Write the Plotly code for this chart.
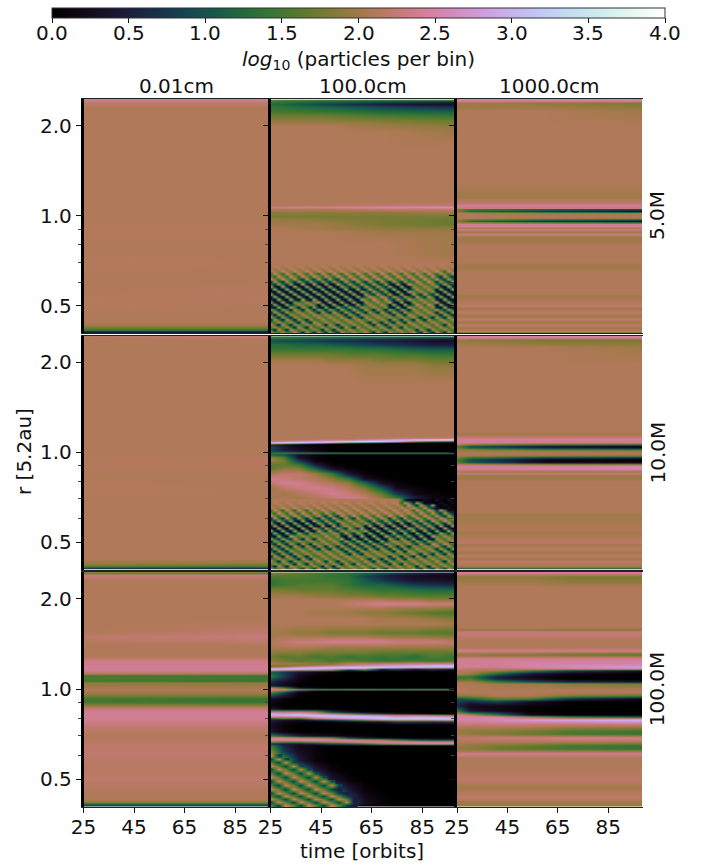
import math
import plotly.graph_objects as go

# ---------- labels ----------
COL_TITLES = ["0.01cm", "100.0cm", "1000.0cm"]
ROW_TITLES = ["5.0M", "10.0M", "100.0M"]
X_TICKS = [25, 45, 65, 85]
Y_MAJOR = [0.5, 1.0, 2.0]
Y_MINOR = [0.4, 0.6, 0.7, 0.8, 0.9]
CB_TICKS = [0.0, 0.5, 1.0, 1.5, 2.0, 2.5, 3.0, 3.5, 4.0]

# ---------- values: log10(particles per bin) x 10 ----------
T_EDGE = [25, 98.6]
T_LINE = [25, 30, 60, 98.6]
T_MID = [25, 30, 36, 43, 49, 56, 62, 69, 75, 82, 89, 98.6]
T_B0 = [25, 45, 70, 98.6]
T_C2 = [25, 30, 41, 54, 70, 98.6]
T_STRIPE = [25, 26.6, 28.1, 29.7, 31.3, 32.8, 34.4, 36, 37.5, 39.1, 40.7, 42.2, 43.8, 45.4, 46.9, 48.5,
            50, 51.6, 53.2, 54.7, 56.3, 57.9, 59.4, 61, 62.6, 64.1, 65.7, 67.3, 68.8, 70.4, 72, 73.5,
            75.1, 76.7, 78.2, 79.8, 81.4, 82.9, 84.5, 86.1, 87.6, 89.2, 90.8, 92.3, 93.9, 95.5, 97, 98.6]
T_STRIPE_C = [25, 28, 31, 34, 37, 40, 43, 46, 49, 52, 55, 58]

R_FINE = [2.46, 2.42, 2.38, 2.3, 2.2, 2.1, 2.0, 1.9, 1.8, 1.7, 1.6, 1.5, 1.4, 1.3, 1.2, 1.1, 1.0,
          0.95, 0.9, 0.85, 0.8, 0.75, 0.7, 0.65, 0.6, 0.55, 0.5, 0.47, 0.44, 0.43, 0.42, 0.415, 0.41, 0.405, 0.40]
Z_A0 = [[24,24],[23,23],[22,22],[21,21],[21,21],[21,21],[21,21],[21,21],[21,21],[21,21],[21,21],[21,21],[21,21],
        [21,21],[21,21],[21,21],[21,21],[21,21],[21.4,21.4],[21,21],[21,21],[21,21],[21.4,21],[21,21],[21,21],[21,21.4],
        [21.4,21],[21,21],[21,21],[20,20],[17,17],[14,13],[8,7],[1,2],[0,0]]
Z_B0L = [[22,23],[21,22],[21,21],[21,21],[21,21],[21,21],[21,21],[21,21],[21,21],[21,21],[21,21],[21,21],[21,21],
         [21,21],[21,21],[21,21],[21,21],[21,21.4],[21.4,21.4],[21,21],[21,21],[21.4,21],[21,21],[21,21],[21,21],[21,21],
         [21,21],[21,21],[21,21],[20,20],[19,18],[15,14],[10,9],[3,2],[0,0]]

R_C0 = [2.46, 2.43, 2.4, 2.35, 2.3, 2.1, 2.0, 1.8, 1.7, 1.55, 1.5, 1.4, 1.35, 1.28, 1.25, 1.2, 1.15, 1.13, 1.11, 1.09,
        1.07, 1.05, 1.0, 0.97, 0.95, 0.93, 0.91, 0.89, 0.87, 0.84, 0.8, 0.77, 0.74, 0.7, 0.65, 0.6, 0.55, 0.5, 0.45,
        0.43, 0.42, 0.415, 0.41, 0.405, 0.40]
Z_C0 = [[19,19],[18,17],[23,23],[22,22],[21,21],[21,21],[21,21],[21,21],[21,21],[21,22],[22,23],[21,21],[21,21],[21,21],
        [23,23],[24,24],[24,24],[21,21],[15,14],[16,15],[15,14],[19,19],[21,21],[20,20],[18,18],[15,14],[15,14],[18,18],
        [22,22],[24,24],[24,24],[23,23],[22,22],[21,21],[22,22],[22,22],[21.5,21.5],[22,22],[21,21],[21,21],[18,18],[13,13],
        [8,8],[2,2],[0,0]]

R_A2 = [2.46, 2.42, 2.38, 2.32, 2.25, 2.0, 1.6, 1.3, 1.16, 1.14, 1.1, 1.09, 1.075, 1.06, 1.05, 1.04, 1.03, 1.02, 1.0,
        0.985, 0.975, 0.962, 0.95, 0.94, 0.925, 0.91, 0.9, 0.88, 0.87, 0.85, 0.83, 0.8, 0.7, 0.68, 0.65, 0.55, 0.54,
        0.52, 0.5, 0.49, 0.475, 0.46, 0.45, 0.44, 0.43, 0.42, 0.41, 0.405, 0.40]
Z_A2 = [[25,25,25,25],[23,23,23,23],[20,20,19,18],[20,20,20,19],[21,21,21,20],[21,21,21,21],[21,21,21,21],[21,21,21,21],
        [20,20,20,20],[21,21,21,21],[22,22,22,22],[24,24,24,24],[24,24,24,24],[22,23,23,23],[19,15,12,9],[18,13,8,4],
        [20,17,14,11],[21,21,20,20],[21,21,21,21],[21,21,20,20],[20,18,15,14],[19,13,7,3],[20,18,15,12],[24,24,24,24],
        [24,24,24,24],[21,21,21,21],[23,23,23,23],[20,20,20,20],[23,23,23,23],[20,20,20,20],[20,20,20,20],[21,21,21,21],
        [21,21,21,21],[20,20,20,20],[21,21,21,21],[21,21,21,21],[20,20,20,20],[21,21,21,21],[22,22,22,22],[20,20,20,20],
        [22,22,22,22],[20,20,20,20],[22,22,22,22],[20,20,20,20],[22,22,22,22],[20,20,20,20],[22,22,22,22],[15,15,15,15],[0,0,0,0]]

R_B2 = [2.46, 2.43, 2.38, 2.32, 2.25, 2.0, 1.6, 1.3, 1.17, 1.155, 1.14, 1.11, 1.09, 1.075, 1.065, 1.055, 1.045, 1.035,
        1.025, 1.01, 0.99, 0.975, 0.965, 0.955, 0.94, 0.925, 0.915, 0.9, 0.885, 0.87, 0.86, 0.85, 0.84, 0.82, 0.8, 0.7,
        0.63, 0.62, 0.55, 0.54, 0.5, 0.49, 0.475, 0.46, 0.45, 0.44, 0.43, 0.415, 0.41, 0.405, 0.40]
Z_B2 = [[25,25,25,25],[24,24,24,24],[20,19,18,18],[20,20,19,19],[21,21,21,20],[21,21,21,21],[21,21,21,21],[21,21,21,21],
        [21,21,21,21],[20,20,20,20],[21,21,21,21],[24,24,24,24],[24,24,24,24],[24,24,23,23],[21,18,14,13],[18,12,7,4],
        [16,10,3,1],[18,12,7,4],[20,19,16,15],[20,20,20,20],[21,21,21,21],[20,20,19,18],[19,17,13,12],[17,11,4,2],
        [15,9,1,0],[17,12,4,3],[20,19,16,15],[24,24,24,25],[24,24,25,26],[22,22,22,22],[20,20,20,20],[23,23,23,23],
        [20,20,20,20],[20,20,20,20],[21,21,21,21],[21,21,21,21],[21,21,21,21],[20,20,20,20],[21,21,21,21],[20,20,20,20],
        [22,22,22,22],[20,20,20,20],[22,22,22,22],[20,20,20,20],[22,22,22,22],[20,20,20,20],[22,22,22,22],[20,20,20,20],
        [17,17,17,17],[4,4,4,4],[0,0,0,0]]

R_C2 = [2.46, 2.42, 2.36, 2.28, 2.2, 1.9, 1.7, 1.6, 1.58, 1.56, 1.54, 1.45, 1.37, 1.34, 1.32, 1.3, 1.28, 1.26, 1.22, 1.19,
        1.17, 1.15, 1.13, 1.1, 1.08, 1.06, 1.04, 1.0, 0.97, 0.95, 0.93, 0.91, 0.88, 0.85, 0.82, 0.81, 0.79, 0.77, 0.75,
        0.73, 0.71, 0.69, 0.67, 0.65, 0.635, 0.62, 0.61, 0.59, 0.55, 0.5, 0.47, 0.44, 0.42, 0.405, 0.40]
Z_C2 = [[25,25,25,25,25,25],[23,23,23,23,23,23],[19,19,19,19,18,18],[20,20,20,20,19,19],[21,21,21,21,21,21],
        [21,21,21,21,21,21],[21,21,21,21,21,21],[21,21,21,21,21,21],[19,19,19,19,18,18],[21,21,21,21,21,21],[23,23,23,23,23,23],
        [21,21,21,21,21,21],[21,21,21,21,21,21],[24,24,24,24,24,24],[21,21,21,21,20,20],[19,19,18,18,17,16],[21,21,21,21,21,21],
        [24,24,24,24,24,24],[24,24,24,25,25,25],[24,24,24,25,26,28],[23,22,22,23,24,26],[21,21,20,15,8,3],[21,20,12,4,1,0],
        [15,14,5,2,0,0],[15,16,6,3,0,0],[20,20,15,10,6,4],[21,21,20,20,19,18],[22,21,21,21,21,21],[21,21,21,21,21,21],
        [19,19,21,21,18,16],[10,12,17,16,7,2],[8,6,8,3,0,0],[6,2,2,1,0,0],[14,4,2,0,0,0],[24,22,14,2,0,0],[25,25,25,20,14,10],
        [25,25,26,28,29,31],[23,23,23,23,23,24],[21,21,21,21,20,20],[20,19,19,18,16,15],[20,19,18,17,15,14],[22,22,23,23,24,24],
        [21,21,21,21,21,21],[20,19,18,17,15,14],[19,19,17,16,15,14],[21,21,21,21,21,21],[24,24,24,24,24,24],[21,21,21,21,21,21],
        [21,21,21,21,21,21],[22,22,22,22,22,22],[20,20,20,20,20,20],[22,22,22,22,22,22],[20,20,20,20,20,20],[19,19,19,19,19,19],[3,3,3,3,3,3]]

R_B0 = [2.46, 2.44, 2.4, 2.36, 2.32, 2.25, 2.18, 2.1, 2.0, 1.9, 1.7, 1.4, 1.2, 1.12, 1.09, 1.07, 1.05, 1.03, 1.0, 0.97,
        0.94, 0.91, 0.88, 0.82, 0.75, 0.7]
Z_B0 = [[34,34,34,34],[16,15,14,14],[14,11,8,5],[13,9,5,3],[14,12,9,7],[15,14,12,11],[17,17,15,14],[19,19,18,17],
        [21,21,20,19],[21,21,21,20],[21,21,21,21],[21,21,21,21],[21,21,21,21],[21,21,21,21],[21,21,22,22],[23,24,25,26],
        [21,21,22,22],[19,19,19,20],[18,18,18,18],[20,19,18,17],[20,20,18,17],[21,20,19,19],[21,21,20,20],[21,21,21,20],
        [21,21,21,20],[21,21,21,21]]

R_B1 = [2.46, 2.44, 2.4, 2.36, 2.3, 2.22, 2.14, 2.05, 1.95, 1.7, 1.4, 1.2, 1.13, 1.11, 1.10, 1.09, 1.08, 1.07, 1.06, 1.04,
        1.02, 1.005, 0.995, 0.985, 0.96, 0.94, 0.91, 0.88, 0.85, 0.82, 0.79, 0.76, 0.73, 0.70]
Z_B1 = [[34,34,34,34,34,34,34,34,34,34,34,34],
        [15,15,15,15,14,14,14,14,14,14,13,13],
        [12,12,11,10,10,9,8,8,7,6,6,5],
        [10,9,9,8,7,7,6,5,5,4,3,3],
        [13,13,12,12,11,10,9,8,7,6,5,5],
        [14,14,14,14,14,14,13,13,12,11,10,10],
        [17,17,17,17,17,16,16,16,15,15,14,14],
        [20,20,20,20,19,19,19,18,18,18,17,17],
        [21,21,21,21,21,21,20,20,20,20,19,19],
        [21,21,21,21,21,21,21,21,21,21,21,21],
        [21,21,21,21,21,21,21,21,21,21,21,21],
        [21,21,21,21,21,21,21,21,21,21,21,21],
        [21,21,21,21,21,21,21,21,21,21,21,21],
        [21,21,21,21,21,21,22,22,23,24,24,25],
        [21,21,21,22,22,23,25,28,30,33,36,37],
        [24,26,28,30,33,34,35,33,28,18,12,8],
        [34,35,34,30,24,15,10,5,2,1,0,0],
        [20,16,10,5,2,1,0,0,0,0,0,0],
        [6,3,1,0,0,0,0,0,0,0,0,0],
        [10,5,2,1,0,0,0,0,0,0,0,0],
        [8,5,3,1,0,0,0,0,0,0,0,0],
        [10,8,5,3,1,0,0,0,0,0,0,0],
        [14,15,15,15,15,15,15,15,15,15,15,15],
        [12,10,3,1,0,0,0,0,0,0,0,0],
        [20,16,4,1,0,0,0,0,0,0,0,0],
        [20,18,8,1,0,0,0,0,0,0,0,0],
        [16,17,15,5,1,0,0,0,0,0,0,0],
        [17,19,19,12,3,1,0,0,0,0,0,0],
        [21,22,22,20,15,4,1,0,0,0,0,0],
        [24,23,22,21,19,14,3,1,0,0,0,0],
        [22,24,24,22,21,19,12,3,1,0,0,0],
        [20,22,23,24,23,21,18,10,2,1,0,0],
        [21,20,21,22,24,23,21,17,8,2,1,0],
        [20,21,20,21,22,24,23,20,16,6,2,1]]

R_C1 = [2.46, 2.44, 2.38, 2.3, 2.22, 2.14, 2.05, 1.98, 1.93, 1.87, 1.8, 1.73, 1.65, 1.54, 1.44, 1.38, 1.33, 1.28, 1.24, 1.22,
        1.21, 1.2, 1.19, 1.18, 1.17, 1.16, 1.14, 1.1, 1.06, 1.03, 1.01, 1.0, 0.99, 0.97, 0.93, 0.89, 0.86, 0.84, 0.83, 0.82,
        0.81, 0.8, 0.79, 0.78, 0.76, 0.72, 0.7, 0.69, 0.68, 0.67, 0.66, 0.65, 0.62, 0.58, 0.54, 0.5, 0.46, 0.42, 0.4]
Z_C1 = [[35,35,35,35,35,35,35,35,35,35,35,35],
        [18,18,17,16,15,14,12,10,8,6,5,4],
        [16,16,16,15,14,13,9,6,4,3,2,2],
        [14,15,15,15,15,14,11,8,6,4,4,3],
        [14,15,16,16,16,14,12,12,10,8,7,6],
        [18,18,17,17,17,16,15,14,14,13,12,12],
        [20,20,20,19,19,18,18,17,17,16,16,16],
        [21,21,21,21,21,21,21,21,20,20,19,19],
        [21,21,21,21,21,22,23,24,24,24,23,23],
        [21,21,21,21,21,21,21,21,20,20,20,19],
        [21,21,21,20,20,20,19,19,18,17,16,15],
        [21,21,21,21,21,21,21,20,20,20,19,18],
        [21,21,21,21,21,21,21,21,21,21,21,20],
        [20,20,19,19,18,18,18,17,17,17,16,16],
        [21,22,23,23,24,24,24,24,23,23,23,22],
        [21,21,21,21,20,20,20,20,20,20,20,20],
        [19,19,19,18,18,18,18,17,17,17,17,17],
        [18,16,17,15,16,14,15,14,15,13,16,14],
        [19,18,16,17,15,16,15,14,14,15,14,15],
        [21,20,20,19,19,22,22,23,23,24,24,24],
        [19,19,18,18,20,22,24,25,26,26,27,28],
        [18,18,20,22,24,25,26,27,28,30,31,32],
        [19,20,24,27,29,31,31,32,31,31,31,31],
        [24,27,30,31,31,31,31,29,26,25,24,24],
        [31,31,31,29,27,26,24,10,12,8,10,8],
        [29,27,25,24,22,8,15,4,6,3,5,2],
        [12,8,4,2,1,0,0,0,0,0,0,0],
        [14,8,2,0,0,0,0,0,0,0,0,0],
        [6,3,1,0,0,0,0,0,0,0,0,0],
        [5,2,0,0,0,0,0,0,0,0,0,0],
        [22,15,3,1,0,0,0,0,0,0,0,0],
        [24,24,22,18,18,19,19,18,18,19,19,19],
        [22,18,5,1,0,0,0,0,0,0,0,0],
        [16,8,1,0,0,0,0,0,0,0,0,0],
        [3,1,0,0,0,0,0,0,0,0,0,0],
        [1,0,0,0,0,0,0,0,0,0,0,0],
        [4,1,0,0,0,0,0,0,0,0,0,0],
        [22,22,22,20,8,3,1,0,0,0,0,0],
        [30,27,29,25,22,18,12,8,5,3,1,0],
        [29,31,32,31,29,26,24,22,20,20,18,15],
        [25,24,25,29,31,32,32,31,28,29,29,27],
        [10,14,12,20,24,26,28,31,32,32,32,32],
        [6,4,3,8,10,15,20,24,25,25,26,27],
        [4,2,1,0,1,2,3,4,8,8,7,8],
        [3,1,0,0,0,0,0,0,0,0,0,0],
        [4,1,0,0,0,0,0,0,0,0,0,0],
        [15,10,5,3,2,1,1,0,0,0,0,0],
        [24,24,22,20,18,8,4,2,1,0,0,0],
        [25,25,26,26,25,24,22,20,15,10,8,8],
        [20,18,18,20,22,24,25,25,25,25,24,24],
        [8,5,4,6,10,12,15,20,22,24,25,25],
        [15,6,2,1,0,0,0,0,0,0,0,0],
        [20,8,3,1,0,0,0,0,0,0,0,0],
        [21,18,5,1,0,0,0,0,0,0,0,0],
        [21,20,16,5,1,0,0,0,0,0,0,0],
        [21,21,19,15,4,1,0,0,0,0,0,0],
        [21,21,20,18,14,5,1,0,0,0,0,0],
        [21,21,21,19,17,10,3,1,0,0,0,0],
        [0,0,0,0,0,0,0,0,0,0,0,0]]

R_STRIPE = [0.692, 0.679, 0.665, 0.652, 0.64, 0.627, 0.615, 0.603, 0.591, 0.58, 0.568, 0.557, 0.546, 0.536, 0.525,
            0.515, 0.505, 0.495, 0.486, 0.476, 0.467, 0.458, 0.449, 0.44, 0.432, 0.424, 0.416, 0.408, 0.40]
Z_LOW = [
 [23,15,3,23,15,3,23,15,3,23,15,3,23,15,3,23,15,3,24,13,5,24,13,5,23,15,3,23,15,3,23,15,3,23,15,3,22,17,14,22,17,14,24,13,5,24,13,5],
 [3,23,15,3,23,15,14,22,17,14,22,17,3,23,15,3,23,15,3,23,15,3,23,15,3,23,15,3,23,15,3,23,15,3,23,15,14,22,17,14,22,17,3,23,15,3,23,15],
 [15,3,23,15,3,23,17,14,22,17,14,22,17,14,22,17,14,22,15,3,23,15,3,23,17,14,22,17,14,22,15,3,23,15,3,23,17,14,22,17,14,22,15,3,23,15,3,23],
 [23,15,3,23,15,3,22,17,14,22,17,14,22,17,14,22,17,14,23,15,3,23,15,3,22,17,14,22,17,14,22,17,14,22,17,14,23,15,3,23,15,3,23,15,3,23,15,3],
 [3,23,15,3,23,15,3,23,15,3,23,15,14,22,17,14,22,17,14,22,17,14,22,17,14,22,17,14,22,17,3,23,15,3,23,15,3,23,15,3,23,15,14,22,17,14,22,17],
 [17,14,22,17,14,22,15,3,23,15,3,23,17,14,22,17,14,22,17,14,22,17,14,22,15,3,23,15,3,23,15,3,23,15,3,23,17,14,22,17,14,22,17,14,22,17,14,22],
 [23,15,3,23,15,3,22,17,14,22,17,14,23,15,3,23,15,3,22,17,14,22,17,14,23,15,3,23,15,3,22,17,14,22,17,14,22,17,14,22,17,14,23,15,3,23,15,3],
 [14,22,17,14,22,17,3,23,15,3,23,15,14,22,17,14,22,17,3,23,15,3,23,15,14,22,17,14,22,17,3,23,15,3,23,15,14,22,17,14,22,17,14,22,17,14,22,17],
 [15,3,23,15,3,23,17,14,22,17,14,22,15,3,23,15,3,23,17,14,22,17,14,22,17,14,22,17,14,22,17,14,22,17,14,22,15,3,23,15,3,23,17,14,22,17,14,22],
 [22,17,14,22,17,14,23,15,3,23,15,3,23,15,3,23,15,3,22,17,14,22,17,14,23,15,3,23,15,3,22,17,14,22,17,14,23,15,3,23,15,3,23,15,3,23,15,3],
 [0,3,1,0,3,1,0,3,1,0,3,1,0,3,1,0,3,1,0,3,1,0,3,1,0,3,1,0,3,1,0,3,1,0,3,1,0,3,1,0,3,1,0,3,1,0,3,1]]
Z_S_B0 = [
 [21,21,21,21,21,21,21,21,21,21,21,21,21,21,21,21,21,21,21,21,21,21,21,21,21,21,21,21,21,21,21,21,21,21,21,21,21,21,21,21,21,21,21,21,21,21,21,21],
 [20,22,21,20,22,21,20,22,21,20,22,21,20,22,21,20,22,21,20,22,21,20,22,21,20,22,21,20,22,21,20,22,21,20,22,21,20,22,21,20,22,21,20,22,21,20,22,21],
 [20,19,22,20,19,22,20,19,22,20,19,22,20,19,22,20,19,22,20,19,22,20,19,22,20,19,22,20,19,22,20,19,22,20,19,22,20,19,22,20,19,22,20,19,22,20,19,22],
 [23,20,18,23,20,18,23,20,18,23,20,18,23,20,18,23,20,18,23,20,18,23,20,18,23,20,18,23,20,18,23,20,18,23,20,18,23,20,18,23,20,18,24,18,12,24,18,12],
 [12,24,18,12,24,18,12,24,18,12,24,18,12,24,18,12,24,18,12,24,18,12,24,18,12,24,18,12,24,18,12,24,18,12,24,18,12,24,18,12,24,18,12,24,18,12,24,18],
 [18,12,24,18,12,24,18,12,24,18,12,24,18,12,24,18,12,24,18,12,24,18,12,24,18,12,24,18,12,24,18,12,24,18,12,24,18,12,24,18,12,24,13,5,24,13,5,24],
 [24,18,12,24,18,12,24,13,5,24,13,5,24,13,5,24,13,5,24,18,12,24,18,12,24,18,12,24,18,12,24,18,12,24,18,12,24,18,12,24,18,12,24,13,5,24,13,5],
 [5,24,13,5,24,13,5,24,13,5,24,13,5,24,13,5,24,13,5,24,13,5,24,13,5,24,13,5,24,13,5,24,13,5,24,13,12,24,18,12,24,18,5,24,13,5,24,13],
 [13,5,24,13,5,24,5,0,26,5,0,26,5,0,26,5,0,26,13,5,24,13,5,24,13,5,24,13,5,24,5,0,26,5,0,26,17,14,22,17,14,22,13,5,24,13,5,24],
 [26,5,0,26,5,0,26,5,0,26,5,0,26,5,0,26,5,0,24,13,5,24,13,5,24,13,5,24,13,5,26,5,0,26,5,0,22,17,14,22,17,14,26,5,0,26,5,0],
 [0,26,5,0,26,5,0,26,5,0,26,5,0,26,5,0,26,5,0,26,5,0,26,5,5,24,13,5,24,13,0,26,5,0,26,5,14,22,17,14,22,17,0,26,5,0,26,5],
 [5,0,26,5,0,26,5,0,26,5,0,26,5,0,26,5,0,26,5,0,26,5,0,26,13,5,24,13,5,24,5,0,26,5,0,26,17,14,22,17,14,22,5,0,26,5,0,26],
 [26,5,0,26,5,0,26,5,0,26,5,0,26,5,0,26,5,0,26,5,0,26,5,0,24,13,5,24,13,5,26,5,0,26,5,0,24,13,5,24,13,5,26,5,0,26,5,0],
 [0,26,5,0,26,5,0,26,5,0,26,5,0,26,5,0,26,5,0,26,5,0,26,5,12,24,18,12,24,18,5,24,13,5,24,13,5,24,13,5,24,13,0,26,5,0,26,5],
 [5,0,26,5,0,26,5,0,26,5,0,26,5,0,26,5,0,26,5,0,26,5,0,26,18,12,24,18,12,24,13,5,24,13,5,24,17,14,22,17,14,22,5,0,26,5,0,26],
 [26,5,0,26,5,0,22,17,14,22,17,14,26,5,0,26,5,0,26,5,0,26,5,0,22,17,14,22,17,14,26,5,0,26,5,0,22,17,14,22,17,14,26,5,0,26,5,0],
 [0,26,5,0,26,5,14,22,17,14,22,17,0,26,5,0,26,5,0,26,5,0,26,5,14,22,17,14,22,17,0,26,5,0,26,5,12,24,18,12,24,18,0,26,5,0,26,5],
 [5,0,26,5,0,26,15,3,23,15,3,23,5,0,26,5,0,26,13,5,24,13,5,24,17,14,22,17,14,22,5,0,26,5,0,26,17,14,22,17,14,22,5,0,26,5,0,26],
] + Z_LOW
Z_S_B1 = [
 [21,21,21,21,21,21,21,21,21,21,21,21,21,21,21,21,21,21,21,21,21,21,21,21,21,21,21,21,21,21,21,21,20,16,6,2,2,1,0,3,1,0,3,1,0,3,1,0],
 [20,22,21,20,22,21,20,22,21,20,22,21,20,22,21,20,22,21,20,22,21,20,22,21,20,22,21,20,22,21,20,22,21,12,24,18,5,24,13,0,3,1,0,3,1,0,3,1],
 [20,19,22,20,19,22,20,19,22,20,19,22,20,19,22,20,19,22,20,19,22,20,19,22,20,19,22,20,19,22,20,19,22,18,12,24,13,5,24,13,5,24,1,0,3,1,0,3],
 [23,20,18,23,20,18,23,20,18,23,20,18,23,20,18,23,20,18,23,20,18,23,20,18,23,20,18,23,20,18,23,20,18,23,20,18,24,18,12,24,13,5,3,1,0,3,1,0],
 [12,24,18,12,24,18,12,24,18,12,24,18,17,23,20,17,23,20,17,23,20,17,23,20,17,23,20,17,23,20,17,23,20,17,23,20,12,24,18,12,24,18,5,24,13,0,3,1],
 [18,12,24,18,12,24,18,12,24,18,12,24,18,12,24,18,12,24,20,17,23,20,17,23,20,17,23,20,17,23,20,17,23,20,17,23,18,12,24,18,12,24,13,5,24,13,5,24],
 [24,18,12,24,18,12,24,18,12,24,18,12,24,13,5,24,13,5,24,18,12,24,18,12,24,18,12,24,18,12,24,18,12,24,18,12,24,18,12,24,18,12,24,13,5,24,13,5],
 [5,24,13,5,24,13,5,24,13,5,24,13,5,24,13,5,24,13,5,24,13,5,24,13,12,24,18,12,24,18,5,24,13,5,24,13,12,24,18,12,24,18,12,24,18,12,24,18],
 [13,5,24,13,5,24,5,0,26,5,0,26,13,5,24,13,5,24,17,14,22,17,14,22,13,5,24,13,5,24,13,5,24,13,5,24,13,5,24,13,5,24,18,12,24,18,12,24],
 [26,5,0,26,5,0,26,5,0,26,5,0,24,13,5,24,13,5,22,17,14,22,17,14,24,13,5,24,13,5,26,5,0,26,5,0,24,13,5,24,13,5,24,13,5,24,13,5],
 [0,26,5,0,26,5,0,26,5,0,26,5,0,26,5,0,26,5,14,22,17,14,22,17,0,26,5,0,26,5,0,26,5,0,26,5,5,24,13,5,24,13,0,26,5,0,26,5],
 [5,0,26,5,0,26,5,0,26,5,0,26,13,5,24,13,5,24,13,5,24,13,5,24,5,0,26,5,0,26,5,0,26,5,0,26,13,5,24,13,5,24,5,0,26,5,0,26],
 [26,5,0,26,5,0,26,5,0,26,5,0,24,13,5,24,13,5,22,17,14,22,17,14,26,5,0,26,5,0,24,13,5,24,13,5,26,5,0,26,5,0,26,5,0,26,5,0],
 [0,26,5,0,26,5,5,24,13,5,24,13,14,22,17,14,22,17,5,24,13,5,24,13,0,26,5,0,26,5,0,26,5,0,26,5,0,26,5,0,26,5,5,24,13,5,24,13],
 [5,0,26,5,0,26,17,14,22,17,14,22,17,14,22,17,14,22,5,0,26,5,0,26,5,0,26,5,0,26,13,5,24,13,5,24,5,0,26,5,0,26,17,14,22,17,14,22],
 [24,13,5,24,13,5,23,15,3,23,15,3,22,17,14,22,17,14,26,5,0,26,5,0,26,5,0,26,5,0,23,15,3,23,15,3,26,5,0,26,5,0,22,17,14,22,17,14],
 [3,23,15,3,23,15,14,22,17,14,22,17,14,22,17,14,22,17,5,24,13,5,24,13,0,26,5,0,26,5,14,22,17,14,22,17,5,24,13,5,24,13,14,22,17,14,22,17],
 [15,3,23,15,3,23,15,3,23,15,3,23,17,14,22,17,14,22,15,3,23,15,3,23,13,5,24,13,5,24,17,14,22,17,14,22,13,5,24,13,5,24,18,12,24,18,12,24],
] + Z_LOW

N = None
R_STRIPE_C = [0.60, 0.585, 0.57, 0.555, 0.54, 0.525, 0.51, 0.495, 0.48, 0.465, 0.45, 0.44, 0.43, 0.42, 0.41]
Z_S_C1 = [
 [23,8,N,N,N,N,N,N,N,N,N,N],
 [8,23,8,N,N,N,N,N,N,N,N,N],
 [17,8,23,8,N,N,N,N,N,N,N,N],
 [23,17,8,23,8,N,N,N,N,N,N,N],
 [8,23,17,8,23,8,N,N,N,N,N,N],
 [17,8,23,17,8,23,8,N,N,N,N,N],
 [23,17,8,23,17,8,23,8,N,N,N,N],
 [8,23,17,8,23,17,8,23,8,N,N,N],
 [17,8,23,17,8,23,17,8,23,8,N,N],
 [23,17,8,23,17,8,23,17,8,5,N,N],
 [8,23,17,8,23,17,8,23,17,8,5,N],
 [17,8,23,17,8,23,17,8,23,17,8,5],
 [23,17,8,23,17,8,23,17,8,23,17,5],
 [8,23,17,8,23,17,8,23,17,8,23,5],
 [17,8,23,17,8,23,17,8,23,17,8,5]]

# ---------- layout in page pixels ----------
W, H = 704, 864
COL_PX = [(83.5, 269.5), (270.5, 456.5), (457, 642.5)]
ROW_PX = [(99, 333), (335.5, 569.5), (571.5, 807)]
CB_PX = (52, 665)
T_RANGE = [25, 98.6]
R_RANGE = [math.log10(0.405), math.log10(2.46)]
FS = 20


def cubehelix(x):
    a = x * (1 - x) / 2
    phi = 2 * math.pi * (0.5 / 3 - 1.5 * x)
    c, s = math.cos(phi), math.sin(phi)
    rgb = [x + a * (-0.14861 * c + 1.78277 * s),
           x + a * (-0.29227 * c - 0.90649 * s),
           x + a * (1.97294 * c)]
    return "rgb(%d,%d,%d)" % tuple(round(255 * min(1, max(0, v))) for v in rgb)


SCALE = [[i / 64, cubehelix(i / 64)] for i in range(65)]
FONT = "DejaVu Sans"

fig = go.Figure()


def add(axis_id, t, r, z):
    zz = [[(v / 10 if v is not None else None) for v in row] for row in z][::-1]
    fig.add_trace(go.Heatmap(x=t, y=r[::-1], z=zz, coloraxis="coloraxis", zsmooth="best",
                             xaxis="x" + axis_id, yaxis="y" + axis_id, hoverinfo="skip"))


PANELS = {
    (0, 0): [(T_EDGE, R_FINE, Z_A0)],
    (0, 1): [(T_B0, R_B0, Z_B0), (T_STRIPE, R_STRIPE, Z_S_B0)],
    (0, 2): [(T_LINE, R_A2, Z_A2)],
    (1, 0): [(T_EDGE, R_FINE, Z_B0L)],
    (1, 1): [(T_MID, R_B1, Z_B1), (T_STRIPE, R_STRIPE, Z_S_B1)],
    (1, 2): [(T_LINE, R_B2, Z_B2)],
    (2, 0): [(T_EDGE, R_C0, Z_C0)],
    (2, 1): [(T_MID, R_C1, Z_C1), (T_STRIPE_C, R_STRIPE_C, Z_S_C1)],
    (2, 2): [(T_C2, R_C2, Z_C2)],
}

layout = dict(
    width=W, height=H, margin=dict(l=0, r=0, t=0, b=0, autoexpand=False),
    paper_bgcolor="white", plot_bgcolor="white", showlegend=False,
    font=dict(family=FONT, size=FS, color="#111111"),
    coloraxis=dict(
        cmin=0, cmax=4, colorscale=SCALE,
        colorbar=dict(
            orientation="h", x=(CB_PX[0] + CB_PX[1]) / 2 / W, xanchor="center", xref="paper",
            y=1 - 8 / H, yanchor="top", yref="paper", len=(CB_PX[1] - CB_PX[0]) / W, lenmode="fraction",
            thickness=10, thicknessmode="pixels", outlinewidth=1, outlinecolor="#333333",
            tickvals=CB_TICKS, showticklabels=False, ticks="outside",
            ticklen=5, tickwidth=1, tickcolor="#111111", xpad=0, ypad=0)),
)

for i, (y0, y1) in enumerate(ROW_PX):
    for j, (x0, x1) in enumerate(COL_PX):
        n = i * 3 + j + 1
        s = "" if n == 1 else str(n)
        for t, r, z in PANELS[(i, j)]:
            add(s, t, r, z)
        layout["xaxis" + s] = dict(
            domain=[x0 / W, x1 / W], range=T_RANGE, anchor="y" + s, showgrid=False, zeroline=False,
            tickvals=X_TICKS if i == 2 else [], ticks="outside" if i == 2 else "", ticklen=5, tickwidth=1,
            tickcolor="#111111", showticklabels=i == 2, showline=True, linecolor="#222222", linewidth=1,
            mirror=True, ticklabelstandoff=-3, tickfont=dict(family=FONT, size=FS, color="#111111"))
        layout["yaxis" + s] = dict(
            domain=[1 - y1 / H, 1 - y0 / H], type="log", range=R_RANGE, anchor="x" + s, showgrid=False,
            zeroline=False, tickvals=Y_MAJOR, ticktext=["%.1f" % v for v in Y_MAJOR], ticks="outside",
            ticklen=5, tickwidth=1, tickcolor="#111111", showticklabels=j == 0,
            minor=dict(tickvals=Y_MINOR, ticks="outside", ticklen=3, tickwidth=1, tickcolor="#444444"),
            showline=True, linecolor="#000000", linewidth=2.5,
            tickfont=dict(family=FONT, size=FS, color="#111111"))

fig.update_layout(**layout)


def label(text, px, py, angle=0):
    fig.add_annotation(text=text, x=px / W, y=1 - py / H, xref="paper", yref="paper", showarrow=False,
                       textangle=angle, xanchor="center", yanchor="middle",
                       font=dict(family=FONT, size=FS, color="#111111"))


for v in CB_TICKS:
    label("%.1f" % v, CB_PX[0] + (CB_PX[1] - CB_PX[0]) * v / 4, 33)
label("<i>log</i><sub>10</sub> (particles per bin)", 358, 60)
for (x0, x1), name in zip(COL_PX, COL_TITLES):
    label(name, (x0 + x1) / 2 - 0.5, 86)
for (y0, y1), name in zip(ROW_PX, ROW_TITLES):
    label(name, 657, (y0 + y1) / 2, -90)
label("r [5.2au]", 24, 452, -90)
label("time [orbits]", 362, 851)

fig.write_html("out.html", post_script="document.body.style.margin='0';", config={"displayModeBar": False})
